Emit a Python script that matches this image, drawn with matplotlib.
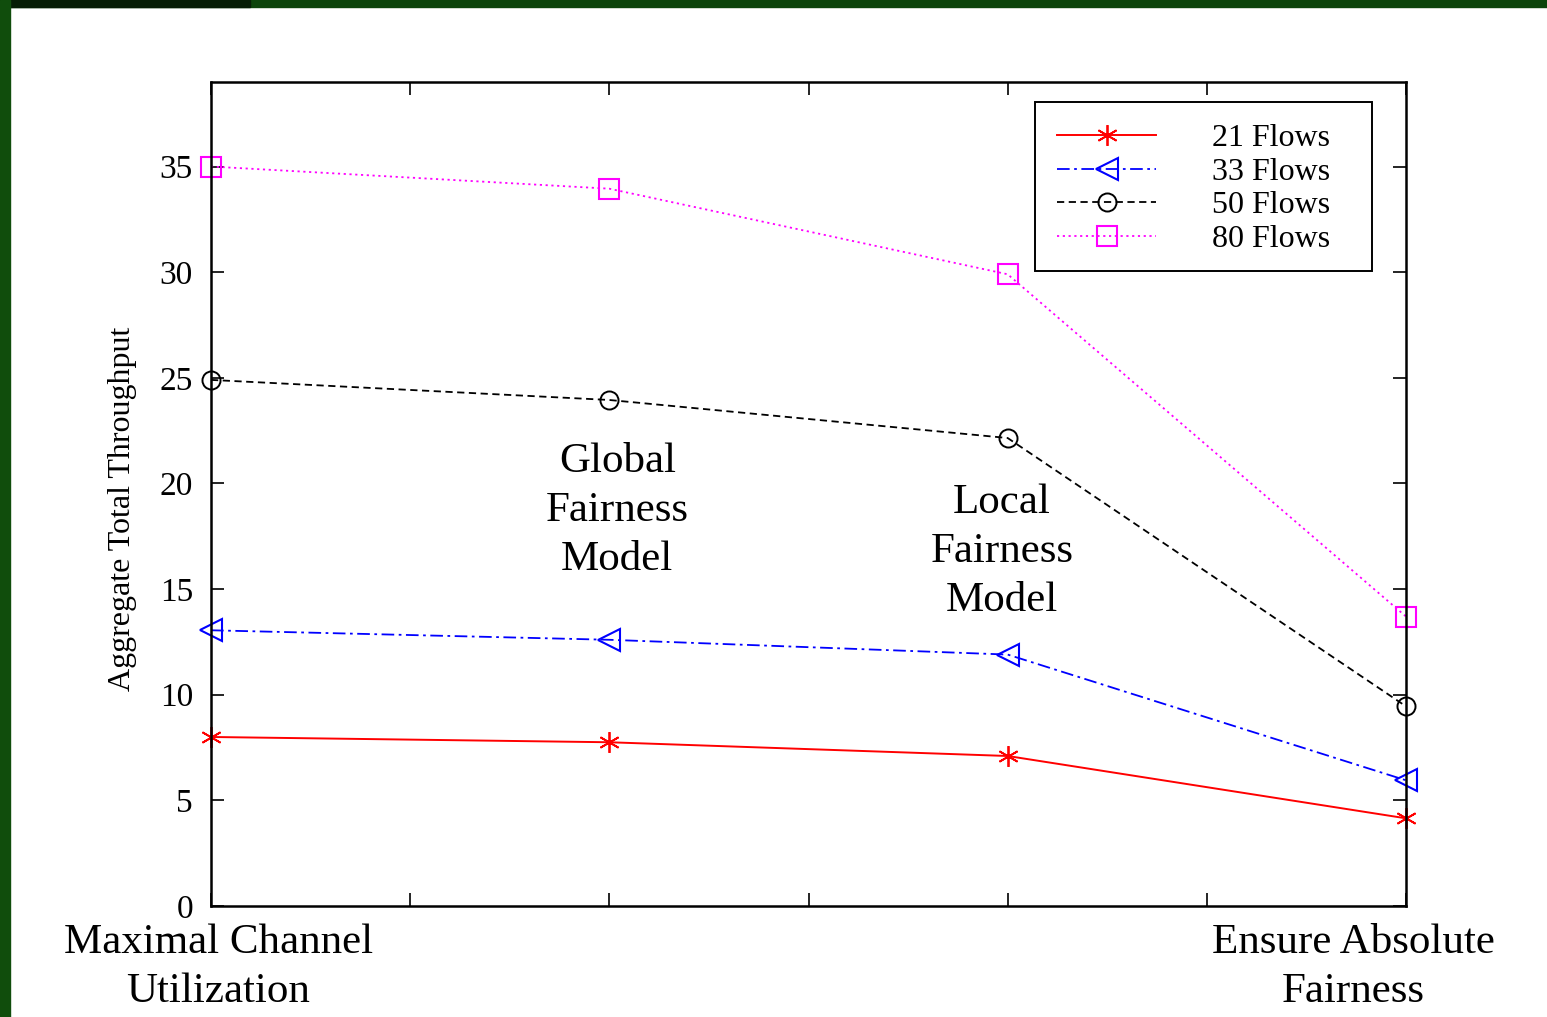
import matplotlib.pyplot as plt
from matplotlib.patches import Rectangle

# models along the x axis (0 .. 3)
positions = [0, 1, 2, 3]
flows_21 = [8.0, 7.75, 7.1, 4.15]
flows_33 = [13.05, 12.6, 11.9, 5.95]
flows_50 = [24.9, 23.95, 22.15, 9.45]
flows_80 = [35.0, 33.95, 29.9, 13.7]
series_labels = ['21 Flows', '33 Flows', '50 Flows', '80 Flows']
y_ticks = [0, 5, 10, 15, 20, 25, 30, 35]
x_ticks = [0, 0.5, 1, 1.5, 2, 2.5, 3]

plt.rcParams['font.family'] = ['Liberation Serif', 'DejaVu Serif']

fig = plt.figure(figsize=(15.47, 10.17), dpi=100)
fig.patch.set_facecolor('white')

# green slide frame (top and left)
fig.patches.append(Rectangle((0, 1 - 7 / 1017.), 1, 7 / 1017., transform=fig.transFigure,
                             color='#0c440a', zorder=0))
fig.patches.append(Rectangle((0, 1 - 7 / 1017.), 250 / 1547., 7 / 1017., transform=fig.transFigure,
                             color='#061d05', zorder=0))
fig.patches.append(Rectangle((0, 0), 10 / 1547., 1, transform=fig.transFigure,
                             color='#104d0c', zorder=0))

ax = fig.add_axes([211 / 1547., 1 - 906 / 1017., (1406 - 211) / 1547., (906 - 82) / 1017.])

ax.plot(positions, flows_21, color='#ff0000', lw=1.4, ls='-',
        marker=(6, 2, 0), ms=15, mew=1.3, clip_on=False, label=series_labels[0])
ax.plot(positions, flows_33, color='#0000ff', lw=1.3, dashes=(7, 2.5, 1.5, 2.5),
        marker='<', ms=16, mfc='none', mew=1.5, clip_on=False, label=series_labels[1])
ax.plot(positions, flows_50, color='black', lw=1.3, dashes=(4, 2.5),
        marker='o', ms=13, mfc='none', mew=1.4, clip_on=False, label=series_labels[2])
ax.plot(positions, flows_80, color='#ff00ff', lw=1.3, dashes=(1.2, 2),
        marker='s', ms=14, mfc='none', mew=1.5, clip_on=False, label=series_labels[3])

ax.set_xlim(0, 3)
ax.set_ylim(0, 39)
ax.set_xticks(x_ticks)
ax.set_xticklabels([])
ax.set_yticks(y_ticks)
ax.tick_params(direction='in', length=9.5, width=1.2, top=True, right=True,
               labelsize=24, pad=13)
for s in ax.spines.values():
    s.set_linewidth(1.8)

ax.set_ylabel('Aggregate Total Throughput', fontsize=23)
ax.yaxis.set_label_coords(-0.062, 0.482)

# model names
big = dict(ha='center', va='center', fontsize=31, linespacing=1.36, clip_on=False)
ax.text(1.02, 0.48, 'Global\nFairness\nModel', transform=ax.get_xaxis_transform(), **big)
ax.text(1.986, 0.43, 'Local\nFairness\nModel', transform=ax.get_xaxis_transform(), **big)
ax.text(0.018, -0.074, 'Maximal Channel\nUtilization', transform=ax.get_xaxis_transform(), **big)
ax.text(2.867, -0.074, 'Ensure Absolute\nFairness', transform=ax.get_xaxis_transform(), **big)

# legend, with a separate box like the gnuplot key
leg = ax.legend(loc='upper left', bbox_to_anchor=((1057 - 211) / 1195., (906 - 124) / 824.),
                fontsize=23, handlelength=3.1, handletextpad=1.75, labelspacing=0.13,
                borderpad=0, borderaxespad=0, frameon=False)
ax.add_patch(Rectangle(((1035 - 211) / 1195., (906 - 271) / 824.),
                       (1372 - 1035) / 1195., (271 - 102) / 824., transform=ax.transAxes,
                       fill=False, edgecolor='black', lw=1.4, zorder=5))

fig.savefig('out.png', dpi=100)
